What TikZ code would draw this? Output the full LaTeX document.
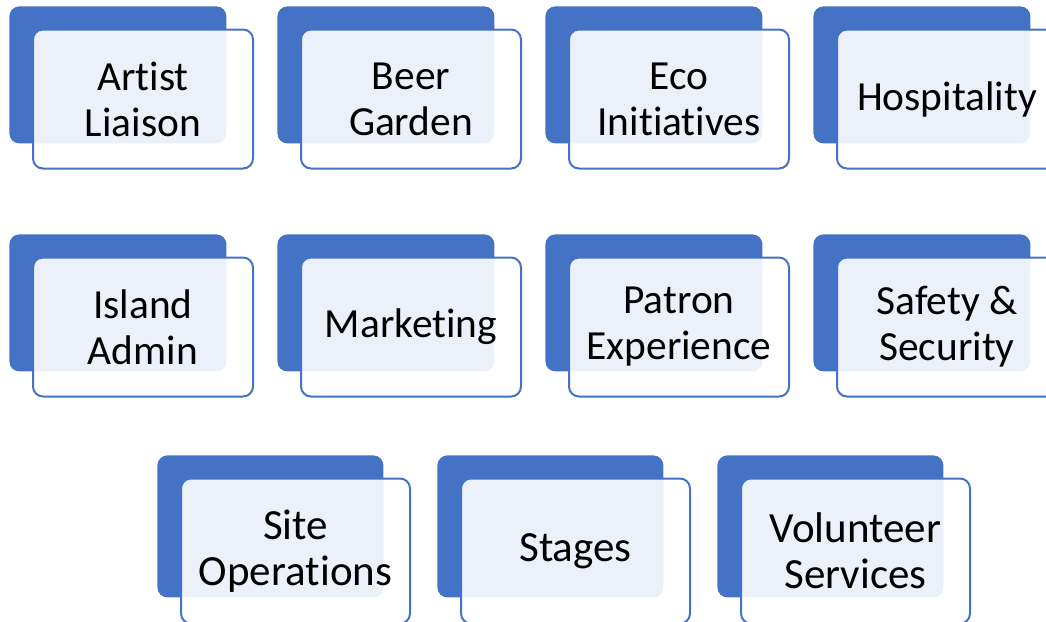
\documentclass[tikz,border=0pt]{standalone}
\usepackage{fontspec}
\setmainfont{Carlito}[Ligatures={NoCommon}]
\usepackage{tikz}
\definecolor{cardblue}{HTML}{4472C4}
% sizes of the cards (back and front), in pt
\newcommand{\bw}{108.5pt}
\newcommand{\bh}{68.5pt}
\newcommand{\fw}{110pt}
\newcommand{\fh}{69.5pt}
\newcommand{\cardfont}{\fontsize{20.7}{23}\selectfont}
\tikzset{
  backbox/.style={fill=cardblue, rounded corners=5pt, inner sep=0pt,
    minimum width=\bw, minimum height=\bh, anchor=north west},
  frontbox/.style={draw=cardblue, line width=1pt, fill=white, fill opacity=0.9,
    text opacity=1, rounded corners=5pt, inner sep=0pt, align=center,
    minimum width=\fw, minimum height=\fh, anchor=north west, font=\cardfont}
}
\newcommand{\card}[4]{
  \node[backbox] (#1-b) at (#2,#3) {};
  \node[frontbox] (#1) at (#2+23,#3+22.5) {#4};
}

\begin{document}
\begin{tikzpicture}[x=0.5pt,y=-0.5pt]
  \useasboundingbox (0,0) rectangle (1046,622);
  \card{artist}{9}{6}{Artist\\Liaison}
  \card{beer}{277}{6}{Beer\\Garden}
  \card{eco}{545}{6}{Eco\\Initiatives}
  \card{hosp}{813}{6}{Hospitality}
  \card{island}{9}{234}{Island\\Admin}
  \card{marketing}{277}{234}{Marketing}
  \card{patron}{545}{234}{Patron\\Experience}
  \card{safety}{813}{234}{Safety \&\\Security}
  % bottom row is a little larger
  \renewcommand{\bw}{113pt}
  \renewcommand{\bh}{71pt}
  \renewcommand{\fw}{114.5pt}
  \renewcommand{\fh}{72.5pt}
  \renewcommand{\cardfont}{\fontsize{21.5}{23}\selectfont}
  \card{site}{157}{455}{Site\\Operations}
  \card{stages}{437}{455}{Stages}
  \card{volunteer}{717}{455}{Volunteer\\Services}
\end{tikzpicture}
\end{document}
